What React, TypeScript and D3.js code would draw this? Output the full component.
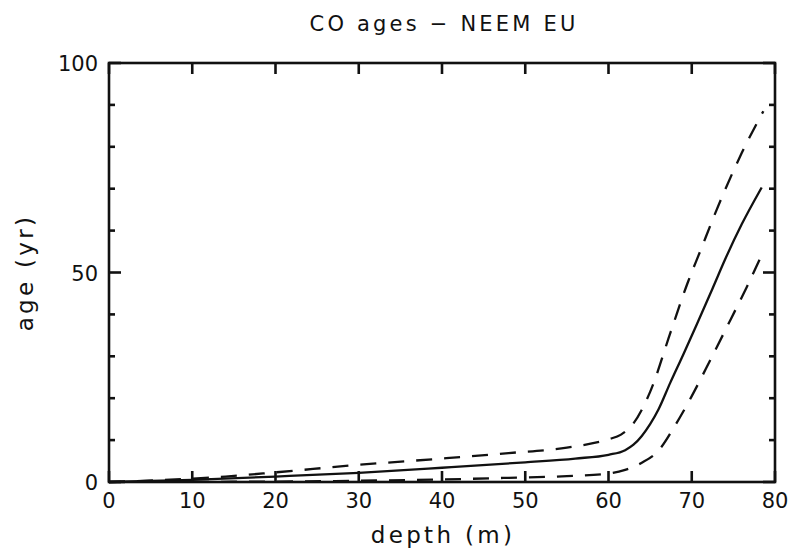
import React, { useRef, useEffect } from 'react';
import * as d3 from 'd3';

// depth (m) / age (yr) pairs
const centralDepth = [0, 10, 20, 30, 40, 50, 56, 60, 62, 63, 64, 65, 66, 67.4, 69, 70.6, 72.5, 74, 76, 78.4];
const centralAge = [0, 0.5, 1.3, 2.2, 3.4, 4.7, 5.6, 6.5, 7.6, 8.9, 11, 13.8, 17.3, 23.6, 30.5, 37.6, 46.2, 53.1, 61.5, 70.3];

const upperDepth = [0, 10, 14, 20, 30, 40, 48, 55, 60, 61.5, 63, 65, 67.5, 69.5, 71, 73, 76, 78.6];
const upperAge = [0, 0.8, 1.3, 2.3, 4.1, 5.6, 6.9, 8.2, 10.2, 11.3, 14, 21.5, 36, 47.5, 55, 65, 78.5, 88.5];

const lowerDepth = [0, 20, 30, 40, 48, 55, 60, 62, 64, 66, 68, 70, 72.2, 74.6, 76.6, 78.7];
const lowerAge = [0, 0.1, 0.3, 0.6, 1.0, 1.4, 2.0, 2.9, 4.6, 7.5, 13.5, 20.5, 29, 38.5, 46.5, 55.5];

const xTicks = [0, 10, 20, 30, 40, 50, 60, 70, 80];
const yMajorTicks = [0, 50, 100];
const yMinorTicks = [10, 20, 30, 40, 60, 70, 80, 90];

const title = 'CO ages \u2212 NEEM EU';
const xLabel = 'depth (m)';
const yLabel = 'age (yr)';

export default function App() {
    const ref = useRef<SVGSVGElement | null>(null);

    useEffect(() => {
        if (!ref.current) return;
        const svg = d3.select(ref.current);
        svg.selectAll('*').remove();

        const margin = { top: 63, right: 15, bottom: 68, left: 109 };
        const width = 790, height = 550;

        const x = d3.scaleLinear().domain([0, 80]).range([margin.left, width - margin.right]);
        const y = d3.scaleLinear().domain([0, 100]).range([height - margin.bottom, margin.top]);

        const font = '"DejaVu Sans", sans-serif';
        const ink = '#111';

        const line = d3.line<[number, number]>()
            .x(d => x(d[0]))
            .y(d => y(d[1]))
            .curve(d3.curveMonotoneX);

        const zip = (a: number[], b: number[]) => a.map((v, i) => [v, b[i]] as [number, number]);

        // curves
        const g = svg.append('g').attr('fill', 'none').attr('stroke', ink).attr('stroke-width', 2.3);
        g.append('path').attr('d', line(zip(upperDepth, upperAge)) as string).attr('stroke-dasharray', '16 12');
        g.append('path').attr('d', line(zip(centralDepth, centralAge)) as string);
        g.append('path').attr('d', line(zip(lowerDepth, lowerAge)) as string).attr('stroke-dasharray', '16 12');

        // frame
        const x0 = x(0), x1 = x(80), y0 = y(0), y1 = y(100);
        svg.append('rect')
            .attr('x', x0).attr('y', y1)
            .attr('width', x1 - x0).attr('height', y0 - y1)
            .attr('fill', 'none').attr('stroke', ink).attr('stroke-width', 2.6);

        const ticks = svg.append('g').attr('stroke', ink).attr('stroke-width', 2.6);
        xTicks.forEach(t => {
            ticks.append('line').attr('x1', x(t)).attr('x2', x(t)).attr('y1', y0).attr('y2', y0 - 11);
            ticks.append('line').attr('x1', x(t)).attr('x2', x(t)).attr('y1', y1).attr('y2', y1 + 11);
        });
        yMajorTicks.forEach(t => {
            ticks.append('line').attr('x1', x0).attr('x2', x0 + 12).attr('y1', y(t)).attr('y2', y(t));
            ticks.append('line').attr('x1', x1).attr('x2', x1 - 12).attr('y1', y(t)).attr('y2', y(t));
        });
        yMinorTicks.forEach(t => {
            ticks.append('line').attr('x1', x0).attr('x2', x0 + 6).attr('y1', y(t)).attr('y2', y(t));
            ticks.append('line').attr('x1', x1).attr('x2', x1 - 6).attr('y1', y(t)).attr('y2', y(t));
        });

        // tick labels
        const labels = svg.append('g').attr('font-family', font).attr('font-size', 21).attr('fill', ink);
        xTicks.forEach(t => {
            labels.append('text').attr('x', x(t)).attr('y', 508)
                .attr('text-anchor', 'middle').text(String(t));
        });
        yMajorTicks.forEach(t => {
            labels.append('text').attr('x', 98).attr('y', y(t) + 8)
                .attr('text-anchor', 'end').text(String(t));
        });

        // titles
        svg.append('text')
            .attr('x', 444).attr('y', 31)
            .attr('text-anchor', 'middle')
            .attr('font-family', font).attr('font-size', 21)
            .attr('letter-spacing', 3.2).attr('fill', ink)
            .text(title);

        svg.append('text')
            .attr('x', 443).attr('y', 543)
            .attr('text-anchor', 'middle')
            .attr('font-family', font).attr('font-size', 23)
            .attr('letter-spacing', 3.3).attr('fill', ink)
            .text(xLabel);

        svg.append('text')
            .attr('transform', `translate(33, ${(y0 + y1) / 2}) rotate(-90)`)
            .attr('text-anchor', 'middle')
            .attr('font-family', font).attr('font-size', 23)
            .attr('letter-spacing', 3.3).attr('fill', ink)
            .text(yLabel);
    }, []);

    return (
        <svg
            ref={ref}
            width={790}
            height={550}
            style={{ position: 'absolute', left: 0, top: 0, background: '#fff' }}
        />
    );
}
